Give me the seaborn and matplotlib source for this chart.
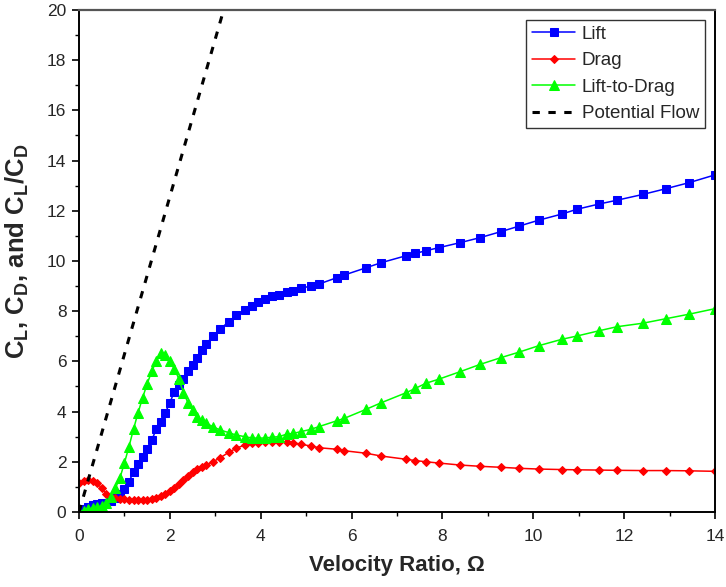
import matplotlib
matplotlib.use("Agg")
import matplotlib.pyplot as plt
import seaborn as sns
import pandas as pd
from matplotlib.ticker import MultipleLocator

# ---- data ----
omega = [0.0, 0.1, 0.2, 0.3, 0.4, 0.5, 0.6, 0.7, 0.8, 0.9,
         1.0, 1.1, 1.2, 1.3, 1.4, 1.5, 1.6, 1.7, 1.8, 1.9,
         2.0, 2.1, 2.2, 2.3, 2.4, 2.5, 2.6, 2.7, 2.8, 2.95,
         3.1, 3.3, 3.45, 3.65, 3.8, 3.95, 4.1, 4.25, 4.4, 4.57,
         4.72, 4.88, 5.1, 5.28, 5.67, 5.84, 6.32, 6.65, 7.2, 7.4,
         7.64, 7.92, 8.39, 8.83, 9.29, 9.69, 10.13, 10.63, 10.96, 11.45,
         11.84, 12.41, 12.92, 13.43, 14.0]

lift = [0.0, 0.12, 0.2, 0.26, 0.31, 0.34, 0.36, 0.42, 0.55, 0.72,
        0.92, 1.2, 1.6, 1.9, 2.2, 2.5, 2.85, 3.3, 3.6, 3.95,
        4.35, 4.8, 5.05, 5.3, 5.6, 5.87, 6.15, 6.45, 6.7, 7.0,
        7.28, 7.58, 7.83, 8.05, 8.2, 8.35, 8.5, 8.6, 8.66, 8.75,
        8.82, 8.91, 9.0, 9.08, 9.33, 9.44, 9.73, 9.93, 10.21, 10.3,
        10.41, 10.53, 10.73, 10.93, 11.17, 11.39, 11.63, 11.87, 12.06, 12.27,
        12.42, 12.65, 12.88, 13.12, 13.43]

drag = [1.15, 1.22, 1.27, 1.25, 1.15, 0.95, 0.72, 0.6, 0.55, 0.52,
        0.5, 0.49, 0.48, 0.48, 0.48, 0.48, 0.5, 0.55, 0.62, 0.72,
        0.83, 0.95, 1.1, 1.27, 1.45, 1.58, 1.7, 1.8, 1.88, 2.0,
        2.15, 2.38, 2.53, 2.67, 2.73, 2.76, 2.78, 2.8, 2.8, 2.78,
        2.76, 2.7, 2.63, 2.56, 2.5, 2.44, 2.34, 2.23, 2.1, 2.05,
        2.0, 1.95, 1.87, 1.82, 1.78, 1.74, 1.71, 1.69, 1.68, 1.67,
        1.66, 1.65, 1.65, 1.64, 1.62]

lift_to_drag = [0.0, 0.05, 0.1, 0.14, 0.18, 0.24, 0.35, 0.6, 0.95, 1.35,
                1.95, 2.6, 3.3, 3.95, 4.55, 5.1, 5.6, 6.0, 6.35, 6.25,
                6.0, 5.7, 5.3, 4.75, 4.35, 4.05, 3.8, 3.65, 3.53, 3.4,
                3.27, 3.16, 3.07, 3.0, 2.95, 2.94, 2.95, 2.98, 3.0, 3.1,
                3.13, 3.2, 3.29, 3.4, 3.63, 3.73, 4.09, 4.35, 4.75, 4.92,
                5.13, 5.29, 5.59, 5.88, 6.15, 6.37, 6.63, 6.88, 7.01, 7.22,
                7.38, 7.52, 7.7, 7.88, 8.1]

pf_omega = [0.0, 3.2]
pf_coef = [0.0, 20.1]

x_ticks = [0, 2, 4, 6, 8, 10, 12, 14]
y_ticks = [0, 2, 4, 6, 8, 10, 12, 14, 16, 18, 20]

# ---- style ----
sns.set_style("white")
plt.rcParams["font.family"] = ["Liberation Sans", "DejaVu Sans"]
plt.rcParams["mathtext.fontset"] = "custom"
plt.rcParams["mathtext.rm"] = "Liberation Sans"
plt.rcParams["mathtext.bf"] = "Liberation Sans:bold"
plt.rcParams["mathtext.it"] = "Liberation Sans:italic"

fig = plt.figure(figsize=(7.26, 5.87), dpi=100)
ax = fig.add_axes([0.1088, 0.1278, 0.876, 0.8552])

df = pd.DataFrame({"omega": omega, "lift": lift, "drag": drag, "ld": lift_to_drag})

sns.lineplot(data=df, x="omega", y="lift", ax=ax, color="#0000FF", lw=1.1,
             marker="s", markersize=6, markeredgecolor="#0000FF",
             markerfacecolor="#0000FF", label="Lift", sort=False)
sns.lineplot(data=df, x="omega", y="drag", ax=ax, color="#FF0000", lw=1.1,
             marker="D", markersize=4.5, markeredgecolor="#FF0000",
             markerfacecolor="#FF0000", label="Drag", sort=False)
sns.lineplot(data=df, x="omega", y="ld", ax=ax, color="#00FF00", lw=1.1,
             marker="^", markersize=6.5, markeredgecolor="#00FF00",
             markerfacecolor="#00FF00", label="Lift-to-Drag", sort=False)
sns.lineplot(x=pf_omega, y=pf_coef, ax=ax, color="black", lw=2.2,
             linestyle=(0, (2.4, 2.8)), label="Potential Flow", sort=False)

ax.set_xlim(0, 14)
ax.set_ylim(0, 20)
ax.set_xticks(x_ticks)
ax.set_yticks(y_ticks)
ax.xaxis.set_minor_locator(MultipleLocator(1))
ax.yaxis.set_minor_locator(MultipleLocator(1))
ax.tick_params(which="major", direction="out", length=5, width=1.2,
               labelsize=12.5, bottom=True, left=True, color="black")
ax.tick_params(which="minor", direction="out", length=3, width=1.0,
               bottom=True, left=True, color="black")
ax.tick_params(axis="x", pad=7)
ax.tick_params(axis="y", pad=4)

for side in ["left", "bottom", "right"]:
    ax.spines[side].set_color("black")
    ax.spines[side].set_linewidth(1.4)
ax.spines["top"].set_color("#555555")
ax.spines["top"].set_linewidth(1.6)

ax.set_xlabel("Velocity Ratio, Ω", fontsize=16, fontweight="bold", labelpad=8)
ax.set_ylabel(r"C$_\mathbf{L}$, C$_\mathbf{D}$, and C$_\mathbf{L}$/C$_\mathbf{D}$",
              fontsize=18.5, fontweight="bold")
ax.yaxis.set_label_coords(-0.076, 0.52)

leg = ax.legend(loc="upper right", bbox_to_anchor=(0.984, 0.980), fontsize=13.5,
                frameon=True, fancybox=False, edgecolor="black",
                handlelength=2.3, borderpad=0.3, labelspacing=0.5,
                handletextpad=0.35, borderaxespad=0.0)
leg.get_frame().set_linewidth(1.0)

fig.savefig("out.png", dpi=100)
